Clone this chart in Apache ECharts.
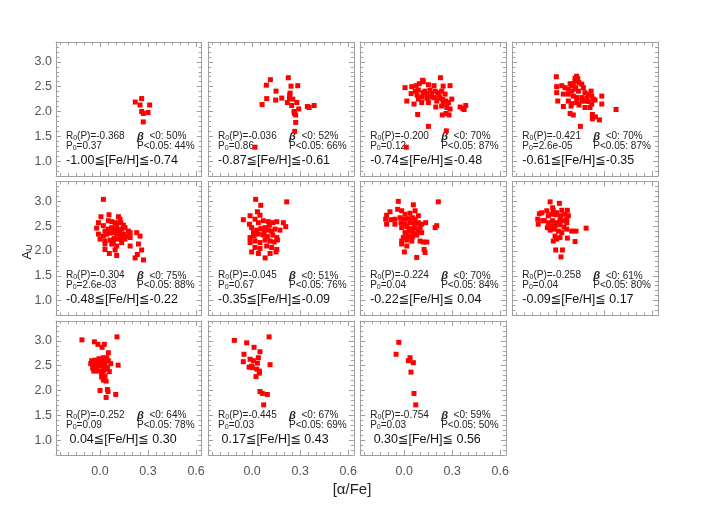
<!DOCTYPE html>
<html><head><meta charset="utf-8">
<script src="https://cdn.jsdelivr.net/npm/echarts@6/dist/echarts.min.js"></script>
<style>html,body{margin:0;padding:0;background:#fff}#c{width:706px;height:518px}</style>
</head><body><div id="c"></div>
<script>
// ---- tick labels ----
const xTicks = [0.0, 0.3, 0.6];
const xTickLabels = ['0.0', '0.3', '0.6'];
const yTicks = [1.0, 1.5, 2.0, 2.5, 3.0];
const yTickLabels = ['1.0', '1.5', '2.0', '2.5', '3.0'];

// ---- per-panel annotation texts ----
const feRanges = ['-1.00≦[Fe/H]≦-0.74', '-0.87≦[Fe/H]≦-0.61', '-0.74≦[Fe/H]≦-0.48', '-0.61≦[Fe/H]≦-0.35',
  '-0.48≦[Fe/H]≦-0.22', '-0.35≦[Fe/H]≦-0.09', '-0.22≦[Fe/H]≦ 0.04', '-0.09≦[Fe/H]≦ 0.17',
  ' 0.04≦[Fe/H]≦ 0.30', ' 0.17≦[Fe/H]≦ 0.43', ' 0.30≦[Fe/H]≦ 0.56'];
const rStats = ['-0.368', '-0.036', '-0.200', '-0.421', '-0.304', '-0.045', '-0.224', '-0.258', '-0.252', '-0.445', '-0.754'];
const p0Values = ['0.37', '0.86', '0.12', '2.6e-05', '2.6e-03', '0.67', '0.04', '0.04', '0.09', '0.03', '0.03'];
const betaNeg = ['50%', '52%', '70%', '70%', '75%', '51%', '70%', '61%', '64%', '67%', '59%'];
const pSig = ['44%', '66%', '87%', '87%', '88%', '76%', '84%', '80%', '78%', '69%', '50%'];

// ---- data: [alpha/Fe, A_U] ----
const panel1 = [[0.22,2.19],[0.26,2.26],[0.25,2.13],[0.31,2.13],[0.26,2.00],[0.27,1.96],[0.30,1.98],[0.27,1.79]];
const panel2 = [[0.114,2.64],[0.226,2.68],[0.089,2.53],[0.243,2.51],[0.285,2.52],[0.149,2.41],[0.237,2.37],[0.235,2.33],[0.062,2.14],[0.091,2.26],[0.147,2.23],[0.185,2.27],[0.22,2.18],[0.233,2.27],[0.254,2.25],[0.279,2.18],[0.247,2.12],[0.291,2.05],[0.262,2.0],[0.264,1.96],[0.272,1.93],[0.345,2.10],[0.356,2.08],[0.387,2.12],[0.272,1.78],[0.266,1.60],[0.018,1.28]];
const panel3 = [[0.226,2.68],[0.115,2.63],[0.005,2.48],[0.047,2.50],[0.074,2.52],[0.094,2.56],[0.119,2.60],[0.151,2.54],[0.186,2.52],[0.243,2.51],[0.286,2.52],[0.069,2.41],[0.088,2.43],[0.119,2.38],[0.130,2.41],[0.161,2.43],[0.193,2.41],[0.209,2.38],[0.234,2.41],[0.255,2.35],[0.016,2.21],[0.061,2.15],[0.088,2.25],[0.109,2.18],[0.141,2.27],[0.161,2.29],[0.188,2.28],[0.203,2.21],[0.224,2.27],[0.241,2.24],[0.259,2.21],[0.297,2.25],[0.197,2.09],[0.234,2.11],[0.266,2.08],[0.286,2.05],[0.349,2.09],[0.366,2.06],[0.384,2.12],[0.374,2.04],[0.084,1.94],[0.238,1.93],[0.261,1.96],[0.280,1.93],[0.151,1.70],[0.263,1.61],[0.013,1.28],[0.043,2.36],[0.080,2.33],[0.109,2.29],[0.141,2.35],[0.172,2.36],[0.218,2.31],[0.276,2.18],[0.244,2.15],[0.151,2.18]];
const panel4 = [[0.0,2.70],[0.127,2.71],[0.134,2.66],[0.117,2.61],[0.106,2.56],[0.096,2.52],[0.142,2.58],[0.159,2.55],[0.169,2.48],[0.217,2.41],[0.002,2.50],[0.034,2.52],[0.054,2.48],[0.075,2.45],[0.096,2.41],[0.117,2.45],[0.138,2.41],[0.179,2.38],[0.2,2.35],[0.221,2.31],[0.002,2.38],[0.044,2.35],[0.075,2.35],[0.106,2.31],[0.127,2.28],[0.159,2.28],[0.19,2.27],[0.231,2.25],[0.242,2.23],[0.284,2.31],[0.009,2.21],[0.075,2.21],[0.096,2.16],[0.127,2.18],[0.159,2.21],[0.2,2.20],[0.221,2.15],[0.044,2.10],[0.092,2.11],[0.142,2.13],[0.179,2.08],[0.284,2.15],[0.373,2.04],[0.086,1.96],[0.106,1.93],[0.225,1.94],[0.244,1.89],[0.225,1.85],[0.269,1.83],[0.15,1.70],[0.117,2.67],[0.121,2.48],[0.086,2.56],[0.179,2.21],[0.21,2.08]];
const panel5 = [[0.021,3.04],[0.006,2.69],[0.056,2.73],[0.115,2.69],[0.125,2.64],[-0.01,2.57],[-0.021,2.46],[0.021,2.51],[0.052,2.61],[0.073,2.59],[0.094,2.57],[0.104,2.54],[0.129,2.57],[0.146,2.52],[0.031,2.40],[0.052,2.44],[0.073,2.47],[0.088,2.44],[0.104,2.45],[0.121,2.40],[0.135,2.44],[0.156,2.47],[0.177,2.40],[-0.01,2.34],[0.021,2.30],[0.042,2.34],[0.063,2.36],[0.083,2.37],[0.104,2.34],[0.125,2.32],[0.146,2.34],[0.188,2.37],[0.229,2.37],[0.25,2.30],[0.0,2.24],[0.031,2.20],[0.063,2.22],[0.088,2.25],[0.115,2.24],[0.135,2.27],[0.156,2.24],[0.188,2.27],[0.031,2.14],[0.073,2.14],[0.104,2.10],[0.135,2.17],[0.188,2.10],[0.24,2.14],[0.031,2.03],[0.094,2.02],[0.058,1.95],[0.104,1.91],[0.26,2.02],[0.233,1.93],[0.219,1.86],[0.271,1.82],[0.083,2.17],[0.115,2.37],[0.167,2.30]];
const panel6 = [[0.022,3.04],[0.054,2.92],[0.216,2.99],[-0.055,2.63],[-0.013,2.71],[0.033,2.79],[0.049,2.72],[-0.017,2.54],[-0.003,2.47],[0.018,2.64],[0.039,2.57],[0.07,2.61],[0.101,2.59],[0.129,2.57],[0.154,2.59],[0.195,2.57],[0.21,2.49],[0.008,2.37],[0.029,2.42],[0.054,2.45],[0.081,2.47],[0.101,2.42],[0.122,2.40],[0.143,2.44],[0.174,2.42],[-0.013,2.27],[0.012,2.30],[0.039,2.34],[0.07,2.32],[0.095,2.29],[0.129,2.32],[0.154,2.27],[-0.013,2.17],[0.018,2.20],[0.049,2.17],[0.081,2.22],[0.112,2.20],[0.137,2.18],[0.158,2.22],[0.018,2.07],[0.049,2.05],[0.091,2.10],[0.122,2.07],[0.154,2.03],[-0.003,1.98],[0.039,1.95],[0.081,1.86],[0.112,1.95],[0.149,1.98],[0.074,2.37],[0.108,2.52]];
const panel7 = [[-0.037,3.00],[0.057,2.93],[0.213,2.99],[-0.089,2.79],[-0.11,2.72],[-0.041,2.84],[-0.016,2.81],[0.005,2.74],[0.036,2.76],[0.068,2.81],[-0.116,2.64],[-0.083,2.63],[-0.058,2.64],[-0.026,2.67],[0.001,2.64],[0.026,2.65],[0.051,2.67],[0.068,2.64],[-0.11,2.54],[-0.02,2.57],[0.005,2.54],[0.036,2.57],[0.063,2.56],[0.088,2.57],[0.109,2.54],[0.134,2.57],[-0.016,2.47],[0.016,2.49],[0.043,2.45],[0.068,2.47],[0.099,2.47],[0.193,2.47],[0.203,2.51],[0.005,2.37],[0.03,2.40],[0.057,2.37],[0.088,2.40],[0.109,2.37],[-0.006,2.27],[0.022,2.30],[0.051,2.29],[0.078,2.32],[-0.016,2.20],[0.016,2.22],[0.047,2.20],[0.099,2.20],[0.119,2.18],[0.141,2.18],[-0.016,2.14],[0.016,2.10],[0.124,2.03],[0.13,1.97],[0.001,1.98],[0.078,1.87],[-0.058,2.54],[0.088,2.71]];
const panel8 = [[-0.039,2.99],[0.019,2.96],[-0.023,2.87],[-0.106,2.75],[-0.091,2.77],[-0.06,2.81],[-0.019,2.81],[0.002,2.77],[0.034,2.82],[0.069,2.82],[-0.116,2.64],[-0.085,2.61],[-0.05,2.71],[-0.029,2.74],[-0.002,2.73],[0.027,2.71],[0.054,2.74],[0.075,2.71],[-0.113,2.54],[-0.05,2.57],[-0.023,2.61],[0.002,2.57],[0.023,2.62],[0.044,2.61],[0.065,2.64],[-0.056,2.47],[-0.035,2.51],[-0.008,2.51],[0.023,2.53],[0.048,2.48],[-0.039,2.42],[-0.014,2.44],[0.013,2.40],[0.034,2.37],[0.065,2.44],[0.096,2.40],[0.123,2.40],[0.186,2.46],[-0.008,2.30],[0.023,2.27],[-0.019,2.20],[0.002,2.24],[0.069,2.26],[0.117,2.19],[-0.004,2.02],[0.038,2.02],[0.029,1.88],[0.065,2.57],[-0.075,2.61]];
const panel9 = [[-0.113,3.02],[-0.035,2.98],[-0.013,2.93],[0.027,2.93],[0.013,2.87],[0.106,3.08],[0.052,2.76],[-0.006,2.64],[-0.052,2.60],[-0.031,2.61],[0.021,2.66],[0.042,2.66],[-0.058,2.54],[-0.038,2.52],[-0.017,2.56],[0.004,2.54],[0.031,2.56],[0.052,2.60],[0.067,2.54],[-0.046,2.46],[-0.025,2.46],[0.0,2.49],[0.025,2.47],[0.046,2.46],[0.113,2.51],[-0.042,2.43],[-0.01,2.39],[0.021,2.39],[0.038,2.43],[0.01,2.36],[0.058,2.38],[0.01,2.27],[0.031,2.29],[0.021,2.21],[0.038,2.19],[0.0,2.00],[0.046,2.02],[0.05,1.98],[0.098,1.92],[0.038,1.86],[-0.017,2.61],[0.015,2.58],[-0.038,2.39]];
const panel10 = [[-0.111,3.01],[-0.034,2.96],[0.012,2.87],[0.106,3.08],[-0.051,2.73],[-0.013,2.63],[-0.055,2.58],[0.008,2.60],[0.039,2.66],[0.049,2.78],[0.033,2.55],[0.112,2.52],[-0.019,2.47],[0.001,2.46],[0.029,2.43],[0.045,2.39],[0.024,2.28],[-0.003,2.49],[0.045,2.35],[0.049,1.98],[0.064,1.94],[0.095,1.92],[0.072,1.71]];
const panel11 = [[-0.034,2.97],[-0.051,2.73],[0.036,2.66],[0.026,2.60],[0.057,2.56],[0.042,2.37],[0.061,1.94],[0.072,1.71]];
const panels = [panel1, panel2, panel3, panel4, panel5, panel6, panel7, panel8, panel9, panel10, panel11];

// ---- layout ----
const X0 = 56, Y0 = 42, DX = 152.1, DY = 139.5, W = 145.7, H = 134;
const XMIN = -0.275, XMAX = 0.635, YMIN = 0.7, YMAX = 3.4;
const FRAME = '#a0a0a0';
const FONT = '"Liberation Sans", "DejaVu Sans", sans-serif';

const xMinor = [], yMinor = [];
for (let i = -5; i <= 12; i++) { if (i % 6 !== 0) xMinor.push(+(i * 0.05).toFixed(2)); }
for (let i = 8; i <= 33; i++) { if (i % 5 !== 0) yMinor.push(+(i * 0.1).toFixed(1)); }

function lbl(ticks, labels) {
  return v => { for (let i = 0; i < ticks.length; i++) if (Math.abs(ticks[i] - v) < 1e-6) return labels[i]; return ''; };
}

const grids = [], xAxes = [], yAxes = [], series = [], graphics = [];
panels.forEach((data, k) => {
  const r = Math.floor(k / 4), c = k % 4;
  const left = X0 + c * DX, top = Y0 + r * DY;
  grids.push({ left: left, top: top, width: W, height: H });
  const showX = r === 2;
  const showY = c === 0;
  ['bottom', 'top'].forEach(pos => {
    [true, false].forEach(major => {
      xAxes.push({
        type: 'value', gridIndex: k, position: pos, min: XMIN, max: XMAX,
        axisLine: { show: major, onZero: false, lineStyle: { color: FRAME, width: 1 } },
        axisTick: { show: true, inside: true, length: major ? 5 : 3, customValues: major ? xTicks : xMinor, lineStyle: { color: FRAME } },
        axisLabel: { show: major && pos === 'bottom' && showX, customValues: xTicks, formatter: lbl(xTicks, xTickLabels),
          margin: 10, color: '#555', fontSize: 12.5, fontFamily: FONT },
        splitLine: { show: false }
      });
    });
  });
  ['left', 'right'].forEach(pos => {
    [true, false].forEach(major => {
      yAxes.push({
        type: 'value', gridIndex: k, position: pos, min: YMIN, max: YMAX,
        axisLine: { show: major, onZero: false, lineStyle: { color: FRAME, width: 1 } },
        axisTick: { show: true, inside: true, length: major ? 5 : 3, customValues: major ? yTicks : yMinor, lineStyle: { color: FRAME } },
        axisLabel: { show: major && pos === 'left' && showY, customValues: yTicks, formatter: lbl(yTicks, yTickLabels),
          margin: 4, color: '#555', fontSize: 12.5, fontFamily: FONT },
        splitLine: { show: false }
      });
    });
  });
  series.push({
    type: 'scatter', xAxisIndex: k * 4, yAxisIndex: k * 4, data: data,
    symbol: 'rect', symbolSize: 5, itemStyle: { color: '#ff0000', opacity: 1 }, silent: true
  });
  const txt = { fill: '#222', fontSize: 10, fontFamily: FONT, verticalAlign: 'middle' };
  const subRich = { sub: { fontSize: 7, fontFamily: FONT, fill: '#222', verticalAlign: 'bottom', padding: [4, 0, 0, 0] } };
  graphics.push({ type: 'text', left: left + 10, top: top + 89, style: Object.assign({}, txt, { text: 'R{sub|0}(P)=' + rStats[k], rich: subRich }) });
  graphics.push({ type: 'text', left: left + 10, top: top + 99, style: Object.assign({}, txt, { text: 'P{sub|0}=' + p0Values[k], rich: subRich }) });
  graphics.push({ type: 'text', left: left + 81, top: top + 89, style: Object.assign({}, txt, { text: '{b|β}  <0: ' + betaNeg[k],
    rich: { b: { fontSize: 11, fontWeight: 'bold', fontStyle: 'italic', fontFamily: FONT, fill: '#222' } } }) });
  graphics.push({ type: 'text', left: left + 81, top: top + 99, style: Object.assign({}, txt, { text: 'P<0.05: ' + pSig[k] }) });
  graphics.push({ type: 'text', left: left + 10, top: top + 112, style: { text: feRanges[k], fill: '#111', fontSize: 12.5, fontFamily: FONT, whiteSpace: 'pre' } });
});

graphics.push({ type: 'text', x: 352, y: 490, style: { text: '[α/Fe]', fill: '#222', fontSize: 15, fontFamily: FONT, align: 'center', verticalAlign: 'middle' } });
graphics.push({ type: 'text', x: 27, y: 252, rotation: Math.PI / 2, style: { text: 'A{s|U}', fill: '#222', fontSize: 13, fontFamily: FONT,
  align: 'center', verticalAlign: 'middle',
  rich: { s: { fontSize: 9, fontFamily: FONT, fill: '#222', padding: [6, 0, 0, 0] } } } });

const chart = echarts.init(document.getElementById('c'), null, { renderer: 'canvas' });
chart.setOption({
  animation: false,
  backgroundColor: '#fff',
  grid: grids, xAxis: xAxes, yAxis: yAxes, series: series, graphic: graphics
});
</script></body></html>
